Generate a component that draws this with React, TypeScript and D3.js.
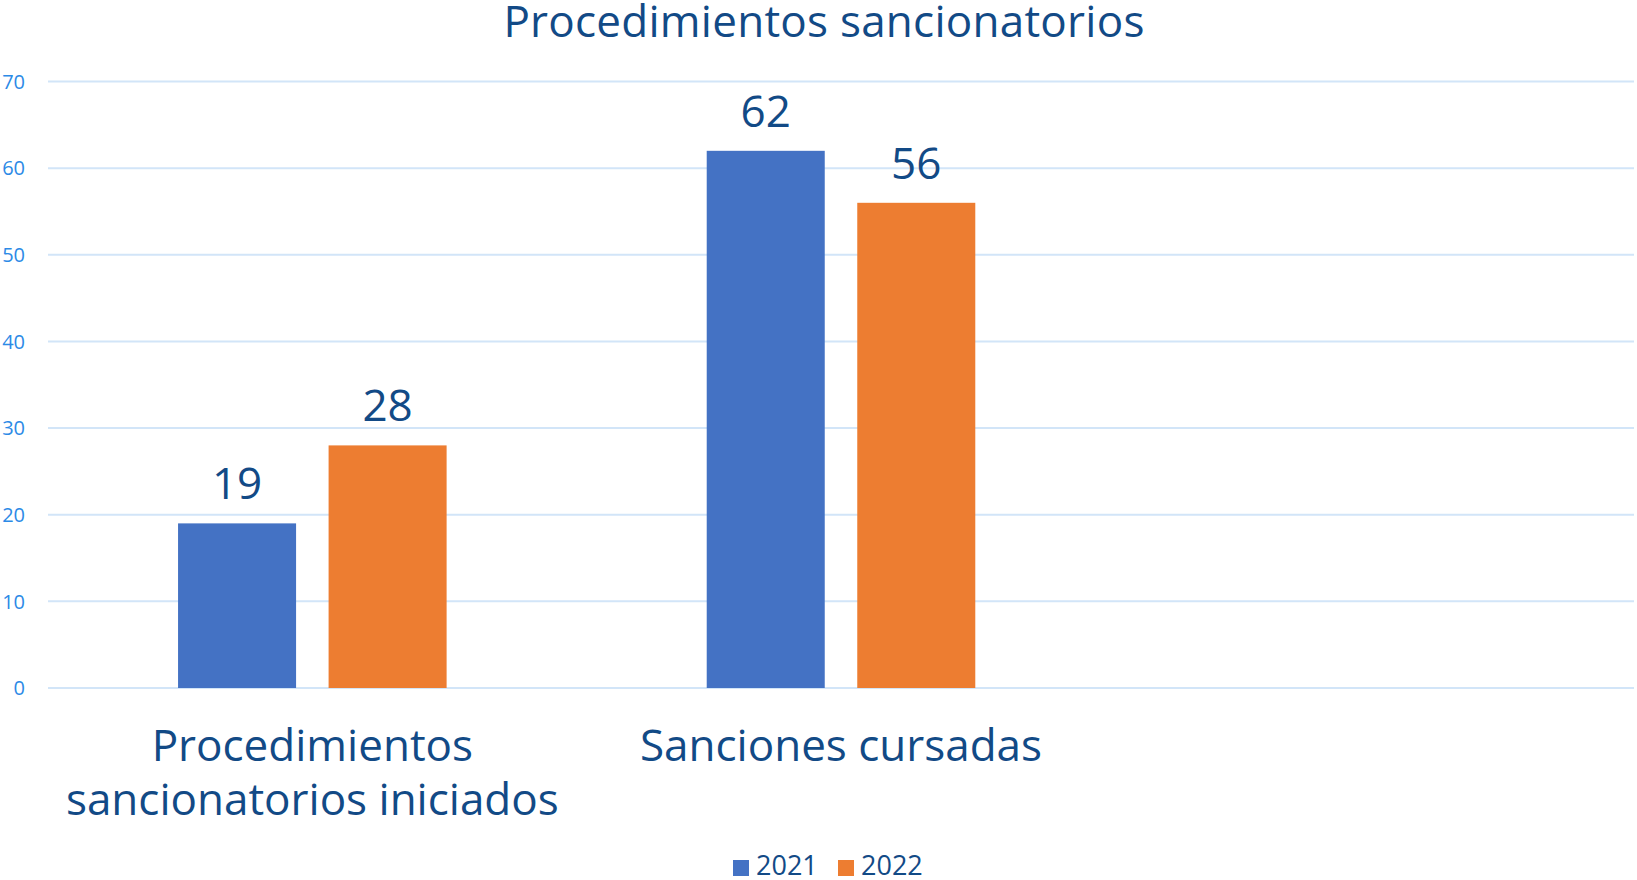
import { useEffect, useRef } from "react";
import * as d3 from "d3";

const categories = [
  ["Procedimientos", "sancionatorios iniciados"],
  ["Sanciones cursadas"],
  [""],
];
const seriesNames = ["2021", "2022"];
const values2021 = [19, 62, null];
const values2022 = [28, 56, null];
const yTicks = [0, 10, 20, 30, 40, 50, 60, 70];

const colors = ["#4472c4", "#ed7d31"];
const textColor = "#124a86";
const font = "'Open Sans', 'Noto Sans', sans-serif";

const App: React.FC = () => {
  const svgRef = useRef<SVGSVGElement | null>(null);

  useEffect(() => {
    if (!svgRef.current) return;
    const svg = d3.select(svgRef.current);
    const width = 1637;
    const height = 880;
    const margin = { top: 81.5, right: 3, bottom: 192, left: 48 };

    svg.selectAll("*").remove();

    const x = d3.scaleBand<number>()
      .domain(categories.map((_, i) => i))
      .range([margin.left, width - margin.right])
      .padding(0);

    const y = d3.scaleLinear()
      .domain([0, 70])
      .range([height - margin.bottom, margin.top]);

    // inner band for the two series, group is ~51% of the category band
    const groupW = x.bandwidth() * 0.508;
    const xs = d3.scaleBand<string>()
      .domain(seriesNames)
      .range([-groupW / 2, groupW / 2])
      .paddingInner(0.216);

    // gridlines
    svg.append("g")
      .selectAll("line")
      .data(yTicks)
      .enter().append("line")
      .attr("x1", margin.left)
      .attr("x2", width - margin.right)
      .attr("y1", d => y(d))
      .attr("y2", d => y(d))
      .attr("stroke", "#d2e5f8")
      .attr("stroke-width", 2);

    // y tick labels
    svg.append("g")
      .selectAll("text")
      .data(yTicks)
      .enter().append("text")
      .attr("x", 25)
      .attr("y", d => y(d))
      .attr("dy", "0.36em")
      .attr("text-anchor", "end")
      .style("font-family", font)
      .style("font-size", "20px")
      .style("fill", "#2c8ae6")
      .text(d => d);

    const series = [values2021, values2022];
    series.forEach((vals, si) => {
      const g = svg.append("g");
      const data = vals.map((v, i) => ({ v, i })).filter(d => d.v !== null) as { v: number; i: number }[];
      g.selectAll("rect")
        .data(data)
        .enter().append("rect")
        .attr("x", d => (x(d.i) ?? 0) + x.bandwidth() / 2 + (xs(seriesNames[si]) ?? 0))
        .attr("y", d => y(d.v))
        .attr("width", xs.bandwidth())
        .attr("height", d => y(0) - y(d.v))
        .style("fill", colors[si]);

      g.selectAll("text")
        .data(data)
        .enter().append("text")
        .attr("x", d => (x(d.i) ?? 0) + x.bandwidth() / 2 + (xs(seriesNames[si]) ?? 0) + xs.bandwidth() / 2)
        .attr("y", d => y(d.v) - 24)
        .attr("text-anchor", "middle")
        .style("font-family", font)
        .style("font-size", "44px")
        .style("fill", textColor)
        .text(d => d.v);
    });

    // category labels
    const cat = svg.append("g");
    categories.forEach((lines, i) => {
      const t = cat.append("text")
        .attr("x", (x(i) ?? 0) + x.bandwidth() / 2)
        .attr("y", 761)
        .attr("text-anchor", "middle")
        .style("font-family", font)
        .style("font-size", "44px")
        .style("fill", textColor);
      lines.forEach((l, li) => {
        t.append("tspan")
          .attr("x", (x(i) ?? 0) + x.bandwidth() / 2)
          .attr("dy", li === 0 ? 0 : 54)
          .text(l);
      });
    });

    // title
    svg.append("text")
      .attr("x", 824)
      .attr("y", 37)
      .attr("text-anchor", "middle")
      .style("font-family", font)
      .style("font-size", "44px")
      .style("letter-spacing", "0.25px")
      .style("fill", textColor)
      .text("Procedimientos sancionatorios");

    // legend
    const legend = svg.append("g");
    const legendX = [733, 838];
    seriesNames.forEach((name, i) => {
      legend.append("rect")
        .attr("x", legendX[i])
        .attr("y", 860)
        .attr("width", 16)
        .attr("height", 16)
        .style("fill", colors[i]);
      legend.append("text")
        .attr("x", legendX[i] + 23)
        .attr("y", 875)
        .style("font-family", font)
        .style("font-size", "27px")
        .style("fill", textColor)
        .text(name);
    });
  }, []);

  return (
    <svg
      ref={svgRef}
      width={1637}
      height={880}
      style={{ position: "absolute", left: 0, top: 0, background: "#fff" }}
    ></svg>
  );
};

export default App;
